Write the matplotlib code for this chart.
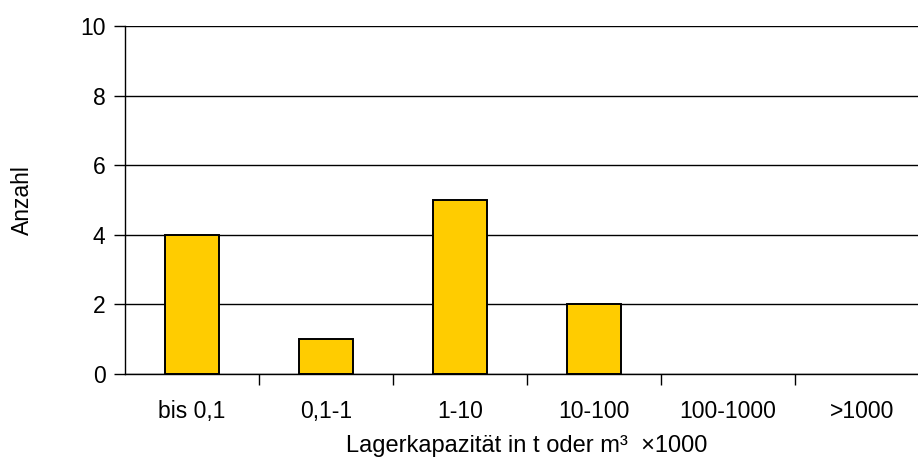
import matplotlib
matplotlib.use("Agg")
import matplotlib.pyplot as plt

plt.rcParams['font.family'] = ['Liberation Sans', 'DejaVu Sans']

categories = ["bis 0,1", "0,1-1", "1-10", "10-100", "100-1000", ">1000"]
counts = [4, 1, 5, 2, 0, 0]
y_ticks = [0, 2, 4, 6, 8, 10]

fig = plt.figure(figsize=(9.18, 4.59), dpi=100)
ax = fig.add_axes([125 / 918, 1 - 374 / 459, 804 / 918, (374 - 26) / 459])

x = list(range(len(categories)))
edge_widths = [1.4 if c > 0 else 0 for c in counts]
ax.bar(x, counts, width=0.40, color="#FFCC00", edgecolor="black",
       linewidth=edge_widths, zorder=3)

ax.set_xlim(-0.5, len(categories) - 0.5)
ax.set_ylim(0, 10)
ax.set_yticks(y_ticks)
ax.yaxis.grid(True, color="black", linewidth=1.0, zorder=0)
ax.set_axisbelow(True)

ax.set_xticks([i + 0.5 for i in x[:-1]])
ax.set_xticklabels([])
ax.set_xticks(x, minor=True)
ax.set_xticklabels(categories, minor=True, fontsize=16.5)
ax.tick_params(axis='x', which='minor', length=0, pad=19)
ax.tick_params(axis='x', which='major', length=8, width=1, direction='out', color='black')
ax.tick_params(axis='y', length=8, width=1, direction='out', labelsize=16.5, pad=6)

for side in ("top", "right"):
    ax.spines[side].set_visible(False)
for side in ("left", "bottom"):
    ax.spines[side].set_color("black")
    ax.spines[side].set_linewidth(1.0)
ax.spines["bottom"].set_zorder(4)

ax.set_xlabel("Lagerkapazität in t oder m³  ×1000", fontsize=17, labelpad=8.5)
ax.set_ylabel("Anzahl", fontsize=16.5, labelpad=33)

fig.savefig("out.png", dpi=100)
